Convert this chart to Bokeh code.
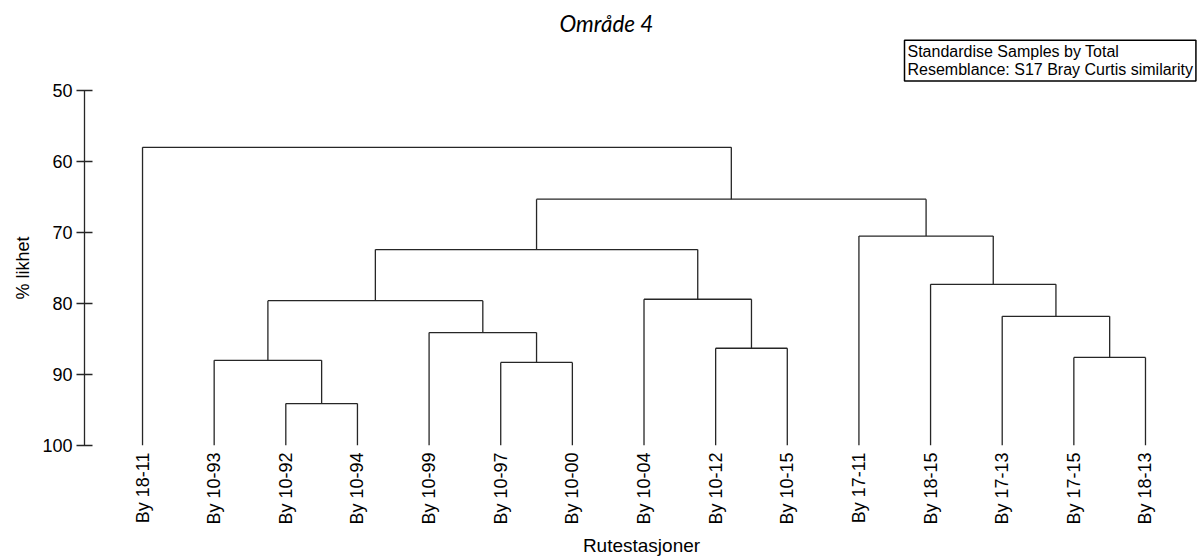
import math
from bokeh.plotting import figure
from bokeh.models import Range1d, FixedTicker, Title
from bokeh.embed import file_html
from bokeh.resources import INLINE

# ---- data ----
leaves = ["By 18-11", "By 10-93", "By 10-92", "By 10-94", "By 10-99", "By 10-97",
          "By 10-00", "By 10-04", "By 10-12", "By 10-15", "By 17-11", "By 18-15",
          "By 17-13", "By 17-15", "By 18-13"]
leaf_similarity = 100.0
# merges: ids 0..14 are leaves, merge k creates cluster id 15+k
merge_left = [2, 1, 5, 4, 16, 8, 7, 19, 13, 12, 11, 10, 22, 0]
merge_right = [3, 15, 6, 17, 18, 9, 20, 21, 14, 23, 24, 25, 26, 27]
merge_height = [94.1, 88.0, 88.3, 84.1, 79.6, 86.3, 79.4, 72.4, 87.6, 81.8, 77.3, 70.5, 65.3, 58.0]
y_ticks = [50, 60, 70, 80, 90, 100]

title_text = "Område 4"
info_text = "Standardise Samples by Total\nResemblance: S17 Bray Curtis similarity"

# ---- dendrogram geometry from the tree ----
n = len(leaves)
xpos = {i: float(i) for i in range(n)}
ypos = {i: leaf_similarity for i in range(n)}
x0, y0, x1, y1 = [], [], [], []
for k, (a, b, h) in enumerate(zip(merge_left, merge_right, merge_height)):
    cid = n + k
    xa, xb = xpos[a], xpos[b]
    x0.append(xa); y0.append(h); x1.append(xb); y1.append(h)
    x0.append(xa); y0.append(h); x1.append(xa); y1.append(ypos[a])
    x0.append(xb); y0.append(h); x1.append(xb); y1.append(ypos[b])
    xpos[cid] = (xa + xb) / 2.0
    ypos[cid] = h

p = figure(
    width=1200, height=558,
    x_range=Range1d(-0.81, 14.74),
    y_range=Range1d(100, 50),
    output_backend="svg", toolbar_location=None,
    min_border_left=84, min_border_right=2, min_border_top=90, min_border_bottom=113,
    outline_line_color=None,
)
p.grid.visible = False
p.background_fill_color = "white"
p.border_fill_color = "white"

p.segment(x0=x0, y0=y0, x1=x1, y1=y1, line_color="#262626", line_width=1.3)

# info box (nearest the frame)
info = Title(text=info_text, align="left", offset=820,
             text_font="Liberation Sans", text_font_size="16px", text_font_style="normal",
             text_color="black", text_line_height=1.05,
             border_line_color="black", border_line_width=1.5,
             background_fill_color="white", padding=3, standoff=19)
p.add_layout(info, "above")

# main title
p.title.text = title_text
p.title.text_font = "Lato"
p.title.text_font_style = "italic"
p.title.text_font_size = "22.5px"
p.title.text_color = "black"
p.title.align = "left"
p.title.offset = 475
p.title.standoff = -16

# y axis
ya = p.yaxis[0]
ya.ticker = FixedTicker(ticks=y_ticks)
ya.axis_label = "% likhet"
ya.axis_label_text_font = "Liberation Sans"
ya.axis_label_text_font_style = "normal"
ya.axis_label_text_font_size = "18px"
ya.axis_label_text_color = "black"
ya.axis_label_standoff = 6
ya.major_label_text_font = "Liberation Sans"
ya.major_label_text_font_size = "18px"
ya.major_label_text_color = "black"
ya.major_tick_in = 8
ya.major_tick_out = 8
ya.major_label_standoff = 4
ya.minor_tick_line_color = None
ya.axis_line_color = "#262626"
ya.major_tick_line_color = "#262626"
ya.axis_line_width = 1.3
ya.major_tick_line_width = 1.3

# x axis
xa_ = p.xaxis[0]
xa_.ticker = FixedTicker(ticks=list(range(n)))
xa_.major_label_overrides = {i: lab for i, lab in enumerate(leaves)}
xa_.major_label_orientation = math.pi / 2
xa_.major_label_text_font = "Liberation Sans"
xa_.major_label_text_font_size = "18px"
xa_.major_label_text_color = "black"
xa_.major_label_standoff = 7
xa_.major_tick_line_color = None
xa_.major_tick_out = 0
xa_.major_tick_in = 0
xa_.minor_tick_line_color = None
xa_.axis_line_color = None
xa_.axis_label = "Rutestasjoner"
xa_.axis_label_text_font = "Liberation Sans"
xa_.axis_label_text_font_style = "normal"
xa_.axis_label_text_font_size = "19px"
xa_.axis_label_text_color = "black"
xa_.axis_label_standoff = 7

open("out.html", "w").write(file_html(p, INLINE))
